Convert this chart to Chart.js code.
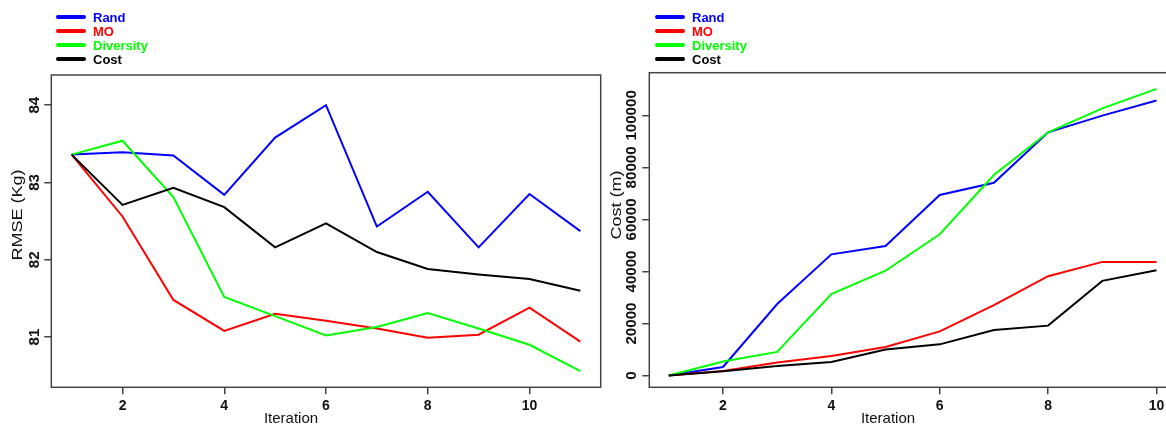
<!DOCTYPE html>
<html>
<head>
<meta charset="utf-8">
<script src="https://cdn.jsdelivr.net/npm/chart.js@4/dist/chart.umd.min.js"></script>
<style>
  html, body { margin: 0; padding: 0; background: #fff; overflow: hidden; width: 1166px; height: 428px; }
  canvas { position: absolute; top: 0; }
  #chart-rmse { left: 0; }
  #chart-cost { left: 590px; }
</style>
</head>
<body>
<canvas id="chart-rmse" width="620" height="428"></canvas>
<canvas id="chart-cost" width="620" height="428"></canvas>
<script>
// datos
const seriesNames = ['Rand', 'MO', 'Diversity', 'Cost'];
const seriesColors = ['#0000ff', '#ff0000', '#00ff00', '#000000'];

const iterRmse = [1, 2, 3, 4, 5, 6, 7, 8, 9, 10, 11];
const rmseRand = [83.36, 83.39, 83.35, 82.84, 83.58, 84.00, 82.43, 82.88, 82.16, 82.85, 82.37];
const rmseMO = [83.36, 82.56, 81.48, 81.08, 81.30, 81.21, 81.11, 80.99, 81.03, 81.38, 80.94];
const rmseDiversity = [83.36, 83.54, 82.81, 81.52, 81.27, 81.02, 81.13, 81.31, 81.11, 80.90, 80.56];
const rmseCost = [83.36, 82.71, 82.93, 82.68, 82.16, 82.47, 82.10, 81.88, 81.81, 81.75, 81.60];

const iterCost = [1, 2, 3, 4, 5, 6, 7, 8, 9, 10];
const costRand = [0, 3300, 27500, 46600, 49800, 69400, 74100, 93500, 99900, 105700];
const costMO = [0, 1800, 5000, 7500, 11000, 17000, 27100, 38200, 43700, 43700];
const costDiversity = [0, 5400, 9100, 31300, 40300, 54300, 77100, 93500, 102700, 110200];
const costCost = [0, 1700, 3700, 5200, 10000, 12000, 17500, 19200, 36400, 40500];

const iterTicks = [2, 4, 6, 8, 10];
const rmseTicks = [81, 82, 83, 84];
const costTicks = [0, 20000, 40000, 60000, 80000, 100000];

const FONT = '"Liberation Sans", Arial, sans-serif';
const AXIS_COLOR = '#444';

// texto vertical, algo estirado como en la figura original
function verticalText(ctx, text, x, y, stretch) {
    ctx.save();
    ctx.translate(x, y);
    ctx.rotate(-Math.PI / 2);
    ctx.scale(stretch, 1);
    ctx.fillText(text, 0, 0);
    ctx.restore();
}

// caja, leyenda, etiquetas rotadas y titulos al estilo R
const rStyle = {
    id: 'rStyle',
    afterDraw(chart, args, opts) {
        const ctx = chart.ctx;
        const area = chart.chartArea;
        ctx.save();
        ctx.strokeStyle = AXIS_COLOR;
        ctx.lineWidth = 1.5;
        ctx.strokeRect(area.left, area.top, area.right - area.left, area.bottom - area.top);

        // etiquetas del eje y, verticales
        const yScale = chart.scales.y;
        ctx.fillStyle = '#111';
        ctx.font = 'bold 14px ' + FONT;
        ctx.textAlign = 'center';
        ctx.textBaseline = 'middle';
        yScale.ticks.forEach(t => {
            verticalText(ctx, String(t.value), opts.yLabelX, yScale.getPixelForValue(t.value), 1.08);
        });

        // titulos
        ctx.font = '15px ' + FONT;
        ctx.fillStyle = '#111';
        ctx.fillText(opts.xTitle, opts.xTitlePos[0], opts.xTitlePos[1]);
        verticalText(ctx, opts.yTitle, opts.yTitlePos[0], opts.yTitlePos[1], 1.2);

        // leyenda
        ctx.textAlign = 'left';
        ctx.font = 'bold 13px ' + FONT;
        ctx.lineCap = 'round';
        chart.data.datasets.forEach((ds, i) => {
            const y = opts.legendTop + i * 14;
            ctx.strokeStyle = ds.borderColor;
            ctx.lineWidth = 4;
            ctx.beginPath();
            ctx.moveTo(opts.legendX, y);
            ctx.lineTo(opts.legendX + 26, y);
            ctx.stroke();
            ctx.fillStyle = ds.borderColor;
            ctx.fillText(ds.label, opts.legendX + 35, y + 1);
        });
        ctx.restore();
    }
};

function buildDatasets(xs, seriesList) {
    return seriesList.map((vals, i) => ({
        label: seriesNames[i],
        data: vals.map((v, k) => ({ x: xs[k], y: v })),
        borderColor: seriesColors[i],
        backgroundColor: seriesColors[i],
        borderWidth: 2,
        pointRadius: 0,
        tension: 0,
        order: seriesList.length - i,
    }));
}

function buildOptions(cfg) {
    return {
        responsive: false,
        animation: false,
        layout: { padding: cfg.padding },
        plugins: {
            legend: { display: false },
            tooltip: { enabled: false },
            rStyle: cfg.deco,
        },
        scales: {
            x: {
                type: 'linear',
                min: cfg.xMin,
                max: cfg.xMax,
                afterBuildTicks: s => { s.ticks = iterTicks.map(v => ({ value: v })); },
                afterFit: s => { s.height = cfg.xHeight; },
                border: { display: false },
                grid: { drawOnChartArea: false, drawTicks: true, tickLength: 7, color: AXIS_COLOR, lineWidth: 1.5 },
                ticks: {
                    autoSkip: false, maxRotation: 0, padding: 3,
                    color: '#111', font: { family: FONT, size: 14, weight: 'bold' },
                },
            },
            y: {
                type: 'linear',
                min: cfg.yMin,
                max: cfg.yMax,
                afterBuildTicks: s => { s.ticks = cfg.yTicks.map(v => ({ value: v })); },
                afterFit: s => { s.width = cfg.yWidth; },
                border: { display: false },
                grid: { drawOnChartArea: false, drawTicks: true, tickLength: 7, color: AXIS_COLOR, lineWidth: 1.5 },
                ticks: { display: false },
            },
        },
    };
}

document.addEventListener('DOMContentLoaded', () => {
    const ctx1 = document.getElementById('chart-rmse').getContext('2d');
    const ctx2 = document.getElementById('chart-cost').getContext('2d');

    new Chart(ctx1, {
        type: 'line',
        data: { datasets: buildDatasets(iterRmse, [rmseRand, rmseMO, rmseDiversity, rmseCost]) },
        options: buildOptions({
            padding: { left: 0, top: 75, right: 19.3, bottom: 0 },
            xMin: 0.6, xMax: 11.4, xHeight: 40.7,
            yMin: 80.35, yMax: 84.39, yWidth: 51.3, yTicks: rmseTicks,
            deco: {
                yLabelX: 35, xTitle: 'Iteration', xTitlePos: [291, 419],
                yTitle: 'RMSE (Kg)', yTitlePos: [18, 215],
                legendX: 58, legendTop: 17,
            },
        }),
        plugins: [rStyle],
    });

    new Chart(ctx2, {
        type: 'line',
        data: { datasets: buildDatasets(iterCost, [costRand, costMO, costDiversity, costCost]) },
        options: buildOptions({
            padding: { left: 0, top: 72.7, right: 34, bottom: 0 },
            xMin: 0.64, xMax: 10.36, xHeight: 40.7,
            yMin: -4500, yMax: 116400, yWidth: 59.3, yTicks: costTicks,
            deco: {
                yLabelX: 41.7, xTitle: 'Iteration', xTitlePos: [298, 419],
                yTitle: 'Cost (m)', yTitlePos: [26.7, 205],
                legendX: 67, legendTop: 17,
            },
        }),
        plugins: [rStyle],
    });
});
</script>
</body>
</html>
